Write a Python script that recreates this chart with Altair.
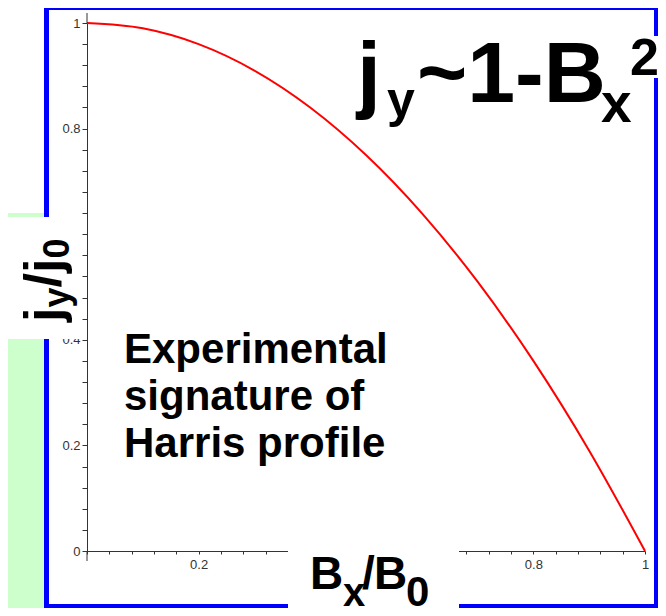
import altair as alt
import pandas as pd

# ---- data ----
bx = [0.0, 0.1, 0.2, 0.3, 0.4, 0.5, 0.6, 0.7, 0.8, 0.9, 1.0]
jy = [1.0, 0.99, 0.96, 0.91, 0.84, 0.75, 0.64, 0.51, 0.36, 0.19, 0.0]

tick_values = [0, 0.04, 0.08, 0.12, 0.16, 0.2, 0.24, 0.28, 0.32, 0.36, 0.4,
               0.44, 0.48, 0.52, 0.56, 0.6, 0.64, 0.68, 0.72, 0.76, 0.8,
               0.84, 0.88, 0.92, 0.96, 1]
# labels that are visible in the reference (others are hidden behind the titles)
x_labelled = [0.2, 0.8, 1]
y_labelled = [0, 0.2, 0.4, 0.8, 1]

title_parts = ["j", "y", "~1-B", "x", "2"]
ylabel_parts = ["j", "y", "/", "j", "0"]
xlabel_parts = ["B", "x", "/", "B", "0"]
note_lines = ["Experimental", "signature of", "Harris profile"]

FONT = "Liberation Sans"
BLUE = "#0000ff"
GREEN = "#ccffcc"
AXIS = "#333333"

df = pd.DataFrame({"bx": bx, "jy": jy})
one = alt.InlineData(values=[{"k": 0}])


def box(x1, x2, y1, y2, color):
    return alt.Chart(one).mark_rect(color=color).encode(
        x=alt.value(x1), x2=alt.value(x2), y=alt.value(y1), y2=alt.value(y2))


def txt(s, x, y, size, angle=0):
    return alt.Chart(one).mark_text(
        text=s, align="left", baseline="alphabetic", font=FONT,
        fontSize=size, fontWeight="bold", color="black", angle=angle
    ).encode(x=alt.value(x), y=alt.value(y))


def label_expr(vals):
    arr = ",".join(str(v) for v in vals)
    return f"indexof([{arr}], datum.value) >= 0 ? datum.label : ''"


x_axis = alt.Axis(values=tick_values, labelExpr=label_expr(x_labelled), format=".1~f",
                  title=None, grid=False, domainColor=AXIS, tickColor=AXIS,
                  labelColor=AXIS, labelFont=FONT, labelFontSize=13,
                  tickSize=3, labelPadding=4, labelFlush=False)
y_axis = alt.Axis(values=tick_values, labelExpr=label_expr(y_labelled), format=".1~f",
                  title=None, grid=False, domainColor=AXIS, tickColor=AXIS,
                  labelColor=AXIS, labelFont=FONT, labelFontSize=13,
                  tickSize=5, labelPadding=2, labelFlush=False)

curve = alt.Chart(df).mark_line(color="#ff0000", strokeWidth=2, interpolate="monotone").encode(
    x=alt.X("bx:Q", scale=alt.Scale(domain=[0, 1], nice=False, zero=False), axis=x_axis),
    y=alt.Y("jy:Q", scale=alt.Scale(domain=[0, 1], nice=False), axis=y_axis),
)

axis_ext = [
    alt.Chart(one).mark_rule(color=AXIS, strokeWidth=1).encode(
        x=alt.value(0), y=alt.value(-10), y2=alt.value(0)),
    alt.Chart(one).mark_rule(color=AXIS, strokeWidth=1).encode(
        x=alt.value(0), y=alt.value(528), y2=alt.value(538)),
]

background = [
    box(-79, -43, 190, 585, GREEN),
    box(-43, -38, -15, 585, BLUE),      # left edge
    box(-43, 571, -15, -13, BLUE),      # top edge
    box(567, 571, -15, 585, BLUE),      # right edge
    box(-43, 571, 581, 585, BLUE),      # bottom edge
]

covers = [
    box(-79, -6, 194, 316, "white"),    # behind y title
    box(201, 372, 522, 585, "white"),   # behind x title
    box(542, 571, 13, 55, "white"),     # behind superscript
]

title = [
    txt(title_parts[0], 270, 79, 86),
    txt(title_parts[1], 300, 94, 50),
    txt(title_parts[2], 330, 79, 86),
    txt(title_parts[3], 514, 99, 55),
    txt(title_parts[4], 543, 52, 52),
]

ytitle = [
    txt(ylabel_parts[0], -26, 299, 52, 270),
    txt(ylabel_parts[1], -18, 284.5, 36, 270),
    txt(ylabel_parts[2], -26, 264.5, 52, 270),
    txt(ylabel_parts[3], -26, 250, 52, 270),
    txt(ylabel_parts[4], -18, 235.5, 36, 270),
]

xtitle = [
    txt(xlabel_parts[0], 223, 566, 46),
    txt(xlabel_parts[1], 256, 583, 40),
    txt(xlabel_parts[2], 275, 566, 46),
    txt(xlabel_parts[3], 287, 566, 46),
    txt(xlabel_parts[4], 319, 583, 42),
]

note = alt.Chart(one).mark_text(
    text=note_lines, align="left", baseline="alphabetic", font=FONT,
    fontSize=42, fontWeight="bold", color="black", lineHeight=47
).encode(x=alt.value(37), y=alt.value(340))

chart = alt.layer(
    *background, curve, *axis_ext, *covers, *title, *ytitle, *xtitle, note
).properties(
    width=558, height=528,
    padding={"left": 79, "top": 15, "right": 13, "bottom": 57},
    autosize=alt.AutoSizeParams(type="none"),
    background="white",
).configure_view(stroke=None)

chart.save("out.html", embed_options={"renderer": "svg", "actions": False})
